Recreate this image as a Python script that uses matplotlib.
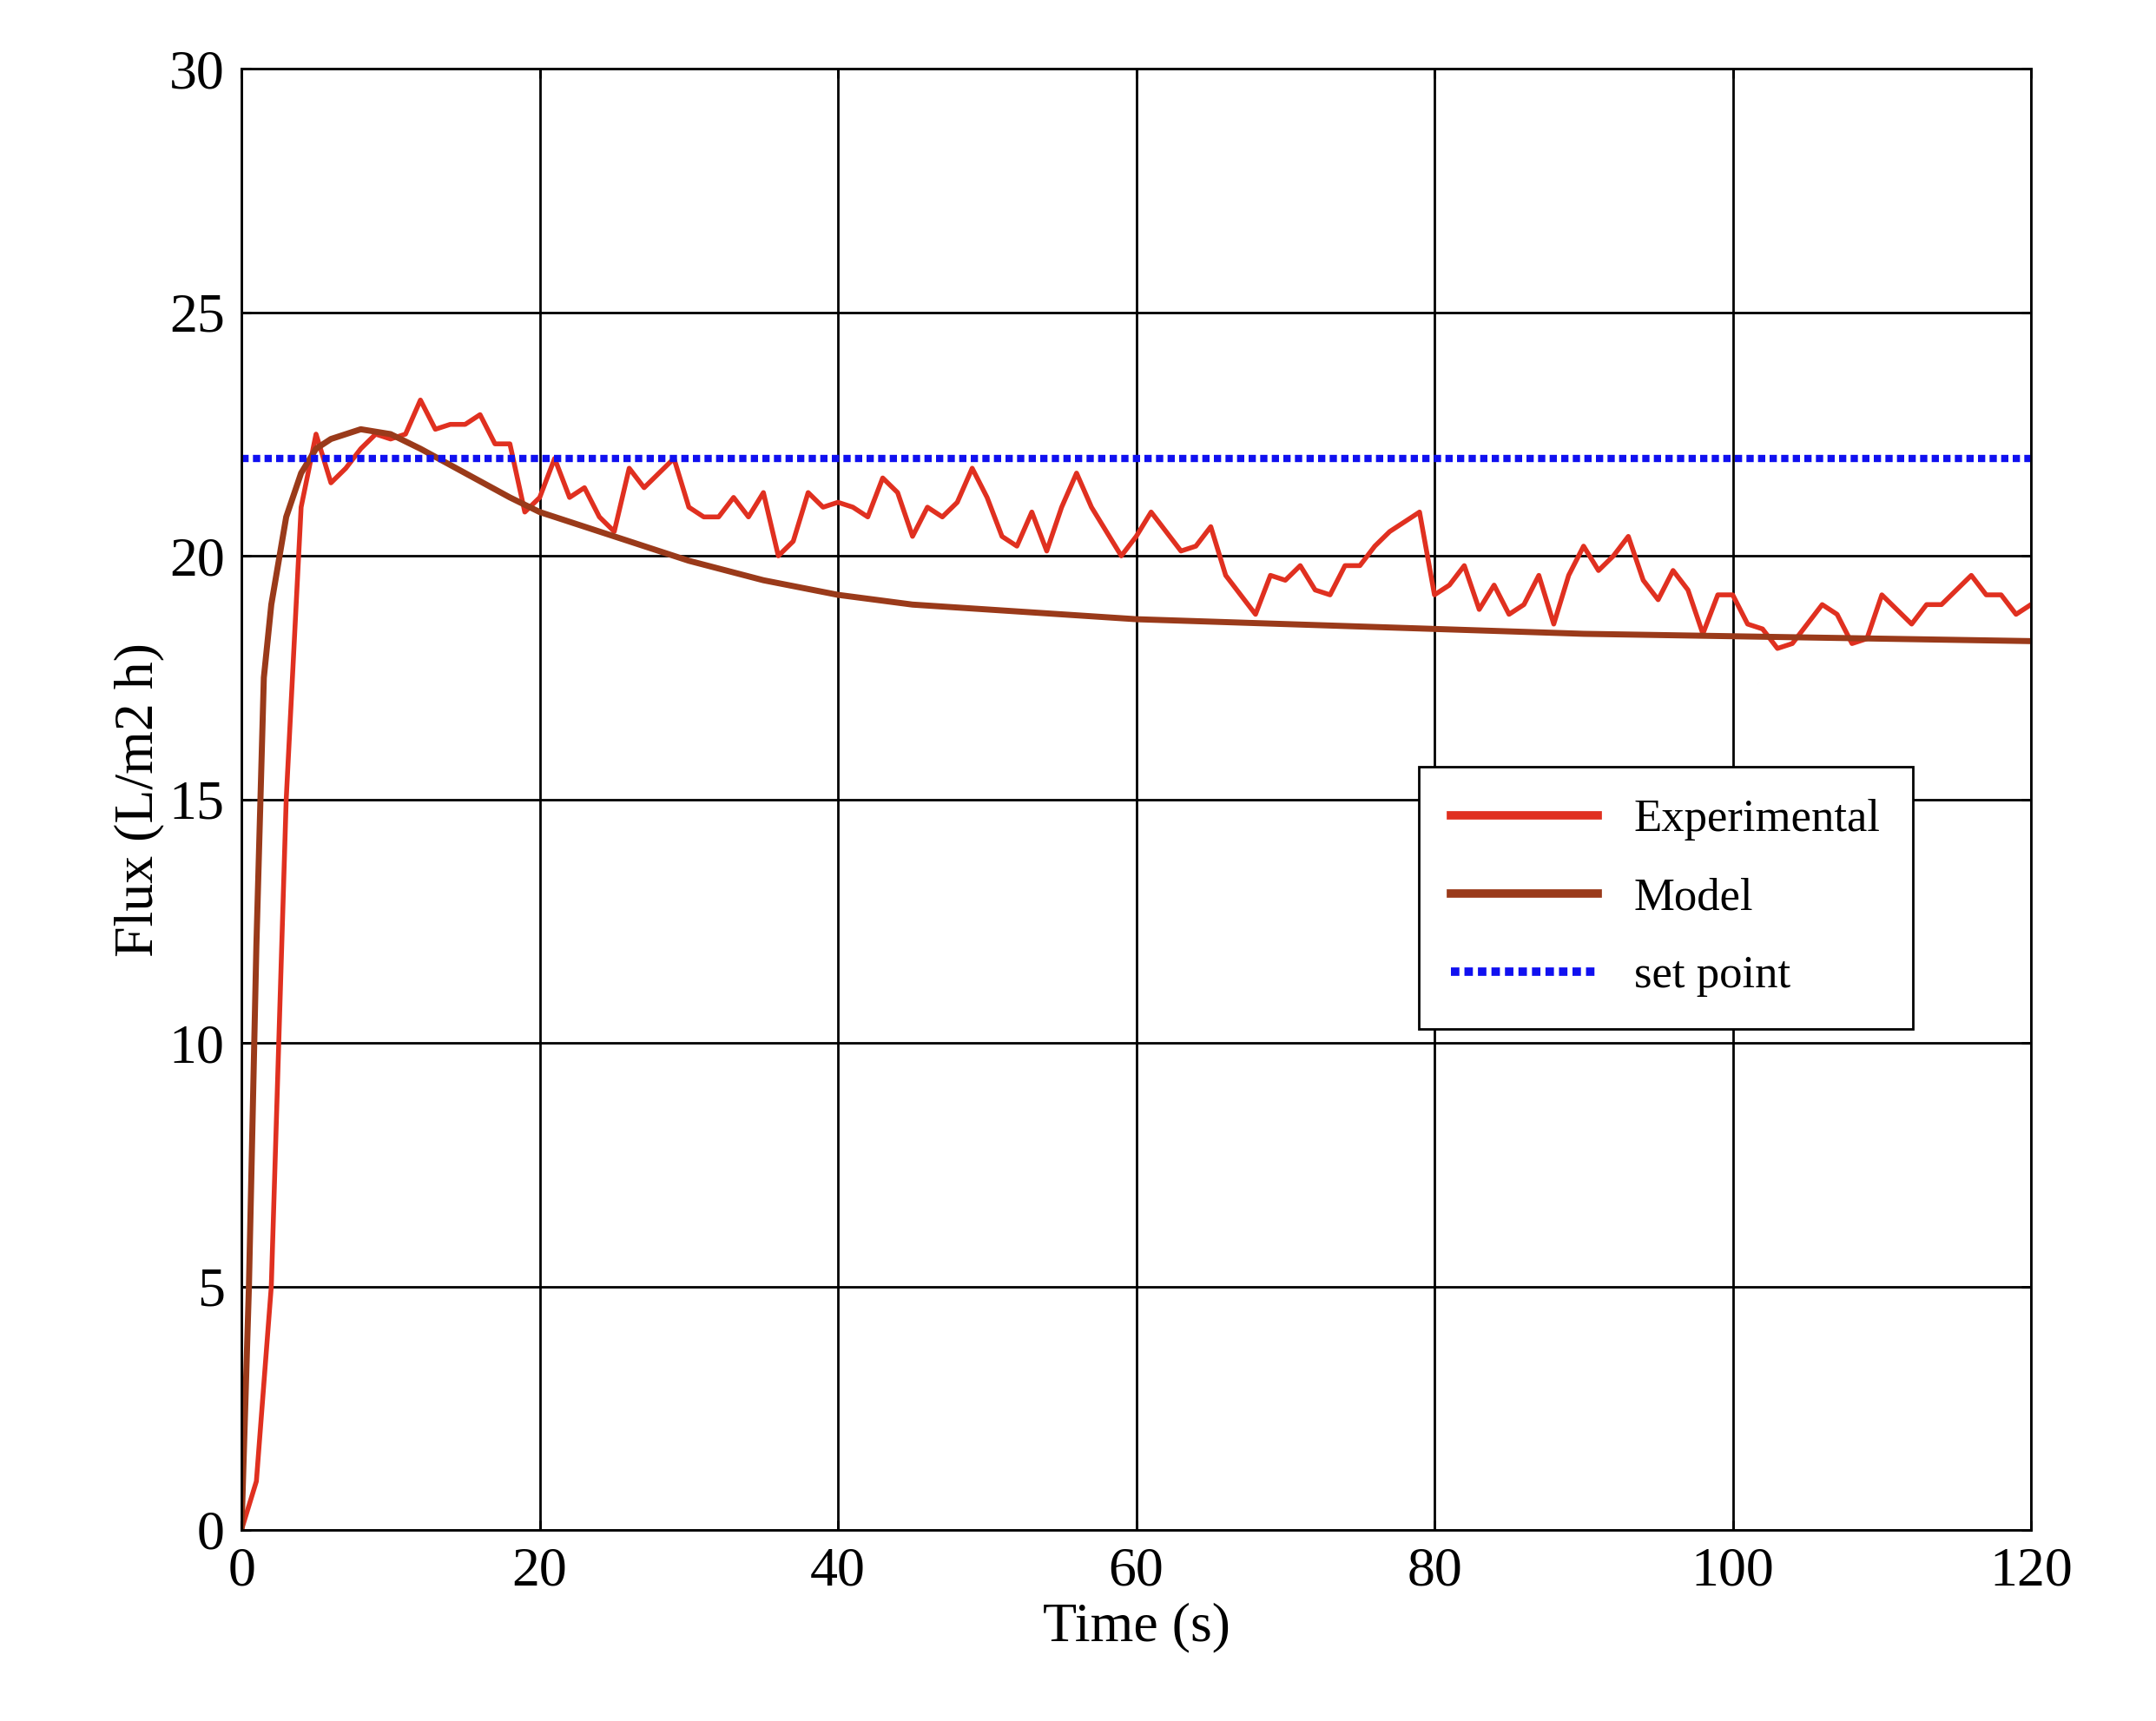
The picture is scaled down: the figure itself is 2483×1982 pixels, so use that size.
import matplotlib
matplotlib.use("Agg")
import matplotlib.pyplot as plt

t_exp = list(range(0, 121))
flux_exp = [0,1,5,15,21,22.5,21.5,21.8,22.2,22.5,22.4,22.5,23.2,22.6,22.7,22.7,22.9,22.3,22.3,20.9,
            21.2,22.0,21.2,21.4,20.8,20.5,21.8,21.4,21.7,22.0,21.0,20.8,20.8,21.2,20.8,21.3,20.0,20.3,21.3,21.0,
            21.1,21.0,20.8,21.6,21.3,20.4,21.0,20.8,21.1,21.8,21.2,20.4,20.2,20.9,20.1,21.0,21.7,21.0,20.5,20.0,
            20.4,20.9,20.5,20.1,20.2,20.6,19.6,19.2,18.8,19.6,19.5,19.8,19.3,19.2,19.8,19.8,20.2,20.5,20.7,20.9,
            19.2,19.4,19.8,18.9,19.4,18.8,19.0,19.6,18.6,19.6,20.2,19.7,20.0,20.4,19.5,19.1,19.7,19.3,18.4,19.2,
            19.2,18.6,18.5,18.1,18.2,18.6,19.0,18.8,18.2,18.3,19.2,18.9,18.6,19.0,19.0,19.3,19.6,19.2,19.2,18.8,19.0]
t_mod = [0,0.5,1,1.5,2,3,4,5,6,8,10,12,15,18,20,25,30,35,40,45,50,55,60,70,80,90,100,110,120]
flux_mod = [0,5,12,17.5,19,20.8,21.7,22.2,22.4,22.6,22.5,22.2,21.7,21.2,20.9,20.4,19.9,19.5,19.2,19.0,18.9,18.8,18.7,18.6,18.5,18.4,18.35,18.3,18.25]
t_sp = [0, 120]
flux_sp = [22, 22]

plt.rcParams['font.family'] = ['Liberation Serif']
fig = plt.figure(figsize=(24.83, 19.82), dpi=100)
ax = fig.add_axes([0.112, 0.111, 0.830, 0.849])
ax.plot(t_exp, flux_exp, color='#e03020', lw=4, label='Experimental')
ax.plot(t_mod, flux_mod, color='#9a3a1a', lw=5, label='Model')
ax.plot(t_sp, flux_sp, color='#1010f0', lw=6, ls=(0, (1, 0.6)), label='set point')
ax.set_xlim(0, 120); ax.set_ylim(0, 30)
ax.set_xticks(range(0, 121, 20)); ax.set_yticks(range(0, 31, 5))
ax.grid(True, color='black', lw=2)
for s in ax.spines.values():
    s.set_linewidth(2)
ax.tick_params(labelsize=46, width=2, length=8, direction='in', top=True, right=True, pad=14)
ax.set_xlabel('Time (s)', fontsize=46)
ax.set_ylabel('Flux (L/m2 h)', fontsize=46)
leg = ax.legend(loc='upper left', bbox_to_anchor=(0.645, 0.538), fontsize=38, frameon=True,
                fancybox=False, edgecolor='black', handlelength=3.2, labelspacing=0.8, borderpad=0.7,
                framealpha=1)
leg.get_frame().set_linewidth(2)
for h in leg.get_lines():
    h.set_linewidth(7)
fig.savefig('out.png', dpi=100)
